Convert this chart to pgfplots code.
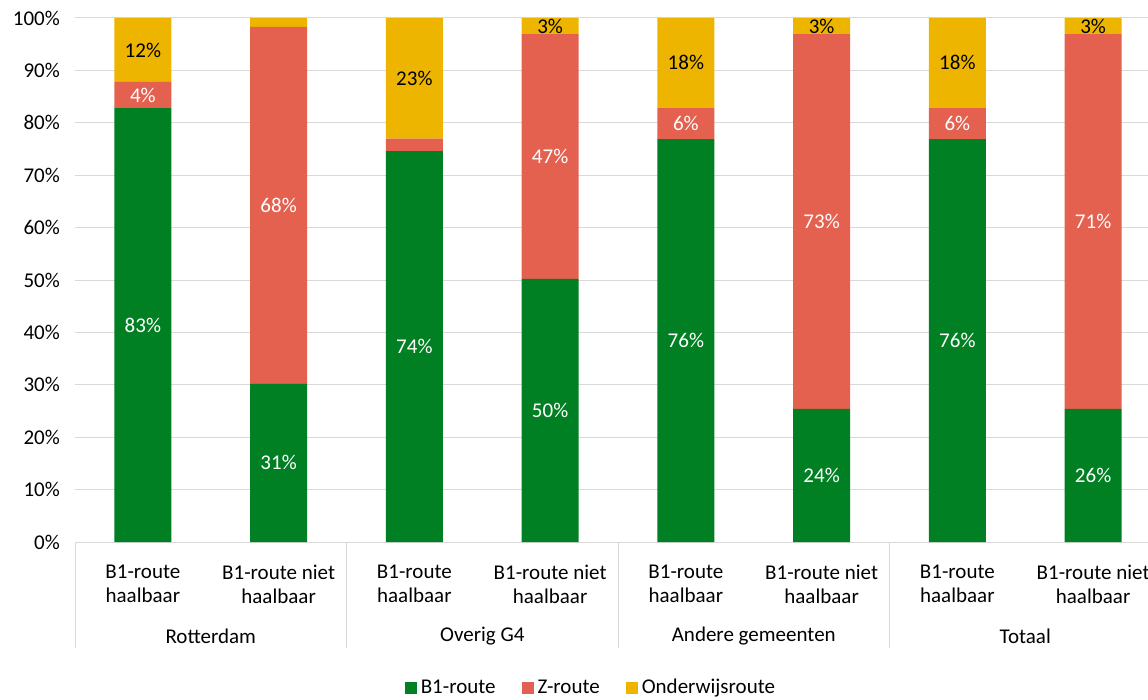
\documentclass[border=0pt]{standalone}
\usepackage{pgfplots}
\pgfplotsset{compat=1.18}
\usepackage{fontspec}
\setmainfont{Carlito}
\definecolor{cgreen}{RGB}{0,128,35}
\definecolor{cred}{RGB}{228,97,80}
\definecolor{cyellow}{RGB}{237,181,0}
\definecolor{cgrid}{RGB}{217,217,217}
\begin{document}
\fontsize{21}{25}\selectfont
\begin{tikzpicture}
\begin{axis}[
  scale only axis,
  width=1086pt, height=524pt,
  ybar stacked, bar width=57pt,
  xmin=-0.5, xmax=7.5, ymin=0, ymax=100,
  xtick={0,...,7},
  xticklabels={{B1-route\\haalbaar},{B1-route niet\\haalbaar},{B1-route\\haalbaar},{B1-route niet\\haalbaar},{B1-route\\haalbaar},{B1-route niet\\haalbaar},{B1-route\\haalbaar},{B1-route niet\\haalbaar}},
  xticklabel style={align=center, anchor=north, yshift=-16pt, font=\fontsize{21}{24}\selectfont},
  major x tick style={draw=none},
  extra x ticks={-0.5,1.5,3.5,5.5,7.5},
  extra x tick labels={},
  extra x tick style={major x tick style={draw=cgrid, line width=1pt}, major tick length=106pt, tick align=outside, grid=none},
  ytick={0,10,...,100},
  yticklabel={\pgfmathprintnumber{\tick}\%},
  yticklabel style={font=\fontsize{21}{25}\selectfont, xshift=-8pt},
  /pgf/number format/assume math mode=true,
  major y tick style={draw=none},
  ymajorgrids, grid style={cgrid, line width=1pt},
  axis x line*=bottom, axis y line*=left,
  x axis line style={cgrid, line width=1pt, -},
  y axis line style={draw=none},
  clip=false,
  point meta=explicit symbolic,
  nodes near coords,
  every node near coord/.append style={anchor=center, font=\fontsize{21}{25}\selectfont},
  legend style={at={(0.476,-0.279)}, anchor=center, draw=none, legend columns=3, font=\fontsize{21}{25}\selectfont,
    /tikz/every even column/.append style={column sep=22pt},
    nodes={inner xsep=4pt}},
  legend image code/.code={\fill[#1] (0pt,-6pt) rectangle (12pt,6pt);},
]
\addplot[fill=cgreen, draw=none, every node near coord/.append style={text=white}] coordinates {
 (0,82.8) [83\%] (1,30.3) [31\%] (2,74.6) [74\%] (3,50.2) [50\%]
 (4,76.9) [76\%] (5,25.4) [24\%] (6,76.9) [76\%] (7,25.4) [26\%]};
\addplot[fill=cred, draw=none, every node near coord/.append style={text=white}] coordinates {
 (0,5.0) [4\%] (1,68.0) [68\%] (2,2.4) [\relax] (3,46.7) [47\%]
 (4,6.0) [6\%] (5,71.5) [73\%] (6,6.0) [6\%] (7,71.5) [71\%]};
\addplot[fill=cyellow, draw=none, every node near coord/.append style={text=black}] coordinates {
 (0,12.2) [12\%] (1,1.7) [\relax] (2,23.0) [23\%] (3,3.1) [3\%]
 (4,17.1) [18\%] (5,3.1) [3\%] (6,17.1) [18\%] (7,3.1) [3\%]};
\legend{B1-route, Z-route, Onderwijsroute}
\node[font=\fontsize{21}{25}\selectfont] at (axis cs:0.5,0) [yshift=-94pt] {Rotterdam};
\node[font=\fontsize{21}{25}\selectfont] at (axis cs:2.5,0) [yshift=-94pt] {Overig G4};
\node[font=\fontsize{21}{25}\selectfont] at (axis cs:4.5,0) [yshift=-94pt] {Andere gemeenten};
\node[font=\fontsize{21}{25}\selectfont] at (axis cs:6.5,0) [yshift=-94pt] {Totaal};
\coordinate (SW) at (rel axis cs:0,0);
\coordinate (NE) at (rel axis cs:1,1);
\end{axis}
\pgfresetboundingbox
\path[use as bounding box] ([shift={(-75pt,-157pt)}]SW) rectangle ([shift={(-13pt,18pt)}]NE);
\end{tikzpicture}
\end{document}
